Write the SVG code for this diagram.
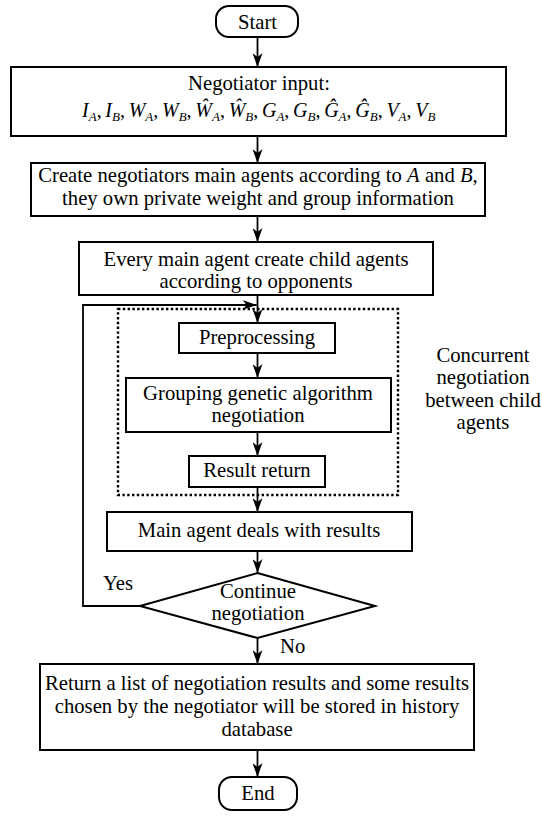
<svg xmlns="http://www.w3.org/2000/svg" width="542" height="816" viewBox="0 0 542 816">
<style>
.b{fill:#fff;stroke:#000;stroke-width:2}
.t{font-family:"Liberation Serif","Times New Roman",serif;font-size:20.7px;fill:#000;text-anchor:middle}
.f{font-size:20px}
.l{text-anchor:start}
.i{font-style:italic}
.s{font-size:13px;font-style:italic}
.c{fill:none;stroke:#000;stroke-width:1.8}
.d{fill:none;stroke:#000;stroke-width:2.4;stroke-dasharray:2.4 2.4}
</style>
<defs>
<marker id="ah" viewBox="0 0 14 10" markerWidth="14" markerHeight="10" refX="14" refY="5" orient="auto" markerUnits="userSpaceOnUse">
<path d="M0,0 L14,5 L0,10 L4,5 Z" fill="#000"/>
</marker>
</defs>
<rect width="542" height="816" fill="#fff"/>

<g id="concurrent">
<rect class="d" x="118" y="309" width="280" height="186"/>
<text class="t" x="483"><tspan x="483" y="362">Concurrent</tspan><tspan x="483" y="384">negotiation</tspan><tspan x="483" y="407">between child</tspan><tspan x="483" y="429">agents</tspan></text>
</g>

<g id="connectors">
<line class="c" x1="257.5" y1="37" x2="257.5" y2="67" marker-end="url(#ah)"/>
<line class="c" x1="257.5" y1="136" x2="257.5" y2="163" marker-end="url(#ah)"/>
<line class="c" x1="257.5" y1="216" x2="257.5" y2="242" marker-end="url(#ah)"/>
<line class="c" x1="257.5" y1="295" x2="257.5" y2="323" marker-end="url(#ah)"/>
<line class="c" x1="257.5" y1="353" x2="257.5" y2="378" marker-end="url(#ah)"/>
<line class="c" x1="257.5" y1="432" x2="257.5" y2="456" marker-end="url(#ah)"/>
<line class="c" x1="257.5" y1="487" x2="257.5" y2="512" marker-end="url(#ah)"/>
<line class="c" x1="257.5" y1="551" x2="257.5" y2="573" marker-end="url(#ah)"/>
<line class="c" x1="257.5" y1="638" x2="257.5" y2="664" marker-end="url(#ah)"/>
<line class="c" x1="257.5" y1="750" x2="257.5" y2="777" marker-end="url(#ah)"/>
<polyline class="c" points="140,606 83,606 83,305 256.6,305" marker-end="url(#ah)"/>
<text class="t l" x="103" y="590">Yes</text>
<text class="t l" x="280" y="653">No</text>
</g>

<g id="start">
<rect class="b" x="216" y="6" width="82" height="31" rx="13"/>
<text class="t" x="257.5" y="29">Start</text>
</g>

<g id="input">
<rect class="b" x="11" y="67" width="495" height="69"/>
<text class="t" x="259" y="90">Negotiator input:</text>
<text class="t l f" x="82" y="117"><tspan class="i">I</tspan><tspan class="s" dy="4">A</tspan><tspan dy="-4">,</tspan><tspan class="i" dx="3.7">I</tspan><tspan class="s" dy="4">B</tspan><tspan dy="-4">,</tspan><tspan class="i" dx="3.7">W</tspan><tspan class="s" dy="4">A</tspan><tspan dy="-4">,</tspan><tspan class="i" dx="3.7">W</tspan><tspan class="s" dy="4">B</tspan><tspan dy="-4">,</tspan><tspan class="i" dx="3.7">Ŵ</tspan><tspan class="s" dy="4">A</tspan><tspan dy="-4">,</tspan><tspan class="i" dx="3.7">Ŵ</tspan><tspan class="s" dy="4">B</tspan><tspan dy="-4">,</tspan><tspan class="i" dx="3.7">G</tspan><tspan class="s" dy="4">A</tspan><tspan dy="-4">,</tspan><tspan class="i" dx="3.7">G</tspan><tspan class="s" dy="4">B</tspan><tspan dy="-4">,</tspan><tspan class="i" dx="3.7">Ĝ</tspan><tspan class="s" dy="4">A</tspan><tspan dy="-4">,</tspan><tspan class="i" dx="3.7">Ĝ</tspan><tspan class="s" dy="4">B</tspan><tspan dy="-4">,</tspan><tspan class="i" dx="3.7">V</tspan><tspan class="s" dy="4">A</tspan><tspan dy="-4">,</tspan><tspan class="i" dx="3.7">V</tspan><tspan class="s" dy="4">B</tspan></text>
</g>

<g id="create">
<rect class="b" x="31" y="163" width="454" height="53"/>
<text class="t" x="258" y="182">Create negotiators main agents according to <tspan class="i">A</tspan> and <tspan class="i">B</tspan>,</text>
<text class="t" x="258" y="205">they own private weight and group information</text>
</g>

<g id="child">
<rect class="b" x="79" y="242" width="354" height="53"/>
<text class="t" x="256" y="266">Every main agent create child agents</text>
<text class="t" x="256" y="288">according to opponents</text>
</g>

<g id="preprocessing">
<rect class="b" x="179" y="323" width="156" height="30"/>
<text class="t" x="257" y="344">Preprocessing</text>
</g>

<g id="grouping">
<rect class="b" x="126" y="378" width="265" height="54"/>
<text class="t" x="258" y="400">Grouping genetic algorithm</text>
<text class="t" x="258" y="422">negotiation</text>
</g>

<g id="result">
<rect class="b" x="189" y="456" width="136" height="31"/>
<text class="t" x="257" y="477">Result return</text>
</g>

<g id="main">
<rect class="b" x="107" y="512" width="305" height="39"/>
<text class="t" x="259" y="537">Main agent deals with results</text>
</g>

<g id="decision">
<polygon class="b" points="257.5,573 375,606 257.5,638 140,606"/>
<text class="t" x="258" y="598">Continue</text>
<text class="t" x="258" y="620">negotiation</text>
</g>

<g id="output">
<rect class="b" x="40" y="664" width="434" height="86"/>
<text class="t" x="257" y="690">Return a list of negotiation results and some results</text>
<text class="t" x="257" y="713">chosen by the negotiator will be stored in history</text>
<text class="t" x="257" y="736">database</text>
</g>

<g id="end">
<rect class="b" x="219" y="777" width="78" height="33" rx="13"/>
<text class="t" x="258" y="800">End</text>
</g>
</svg>
